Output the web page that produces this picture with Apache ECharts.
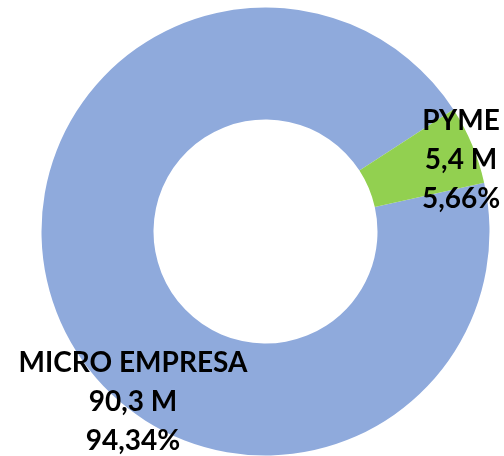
<!DOCTYPE html>
<html>
<head>
<meta charset="utf-8">
<script src="https://cdn.jsdelivr.net/npm/echarts@6/dist/echarts.min.js"></script>
<style>
  html, body { margin: 0; padding: 0; background: #ffffff; }
  #chart { width: 504px; height: 456px; }
</style>
</head>
<body>
<div id="chart"></div>
<script>
// Company segments, amount (millions) and share (%)
const segments = ['MICRO EMPRESA', 'PYME'];
const amounts = ['90,3 M', '5,4 M'];
const shares = [94.34, 5.66];
const shareLabels = ['94,34%', '5,66%'];
const colors = ['#8FAADC', '#92D050'];

const chart = echarts.init(document.getElementById('chart'), null, { renderer: 'canvas' });

// Label anchor points (px) for each segment
const labelAnchors = [
  { x: 133, y: 402 },
  { x: 461, y: 160 }
];

chart.setOption({
  animation: false,
  series: [{
    type: 'pie',
    center: [265.5, 231.5],
    radius: [112, 224],
    startAngle: 12.6,
    clockwise: true,
    data: segments.map((name, i) => ({
      name: name,
      value: shares[i],
      itemStyle: { color: colors[i] }
    })),
    label: {
      show: true,
      position: 'inside',
      formatter: (p) => segments[p.dataIndex] + '\n' + amounts[p.dataIndex] + '\n' + shareLabels[p.dataIndex],
      fontFamily: 'Lato',
      fontWeight: 'bold',
      fontSize: 28,
      lineHeight: 39,
      color: '#000000',
      align: 'center'
    },
    labelLine: { show: false },
    labelLayout: (params) => ({
      x: labelAnchors[params.dataIndex].x,
      y: labelAnchors[params.dataIndex].y,
      align: 'center',
      verticalAlign: 'middle'
    }),
    emphasis: { disabled: true }
  }]
});
</script>
</body>
</html>
